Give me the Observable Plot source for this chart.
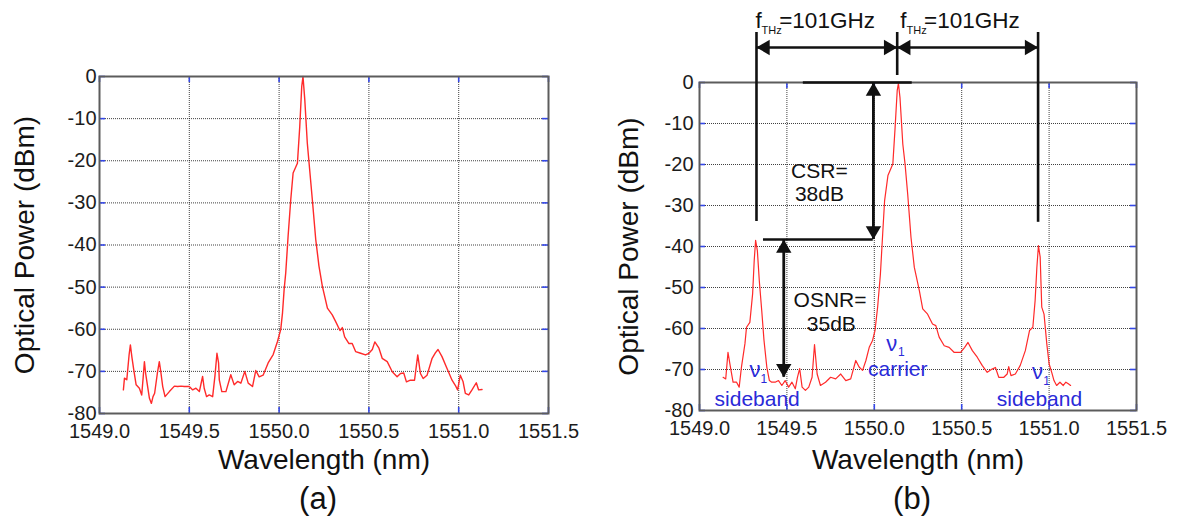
<!DOCTYPE html>
<html><head><meta charset="utf-8">
<script src="https://cdn.jsdelivr.net/npm/d3@7"></script>
<script src="https://cdn.jsdelivr.net/npm/@observablehq/plot@0.6"></script>
<style>
html,body{margin:0;padding:0;background:#fff;}
#wrap{position:relative;width:1178px;height:527px;overflow:hidden;font-family:"Liberation Sans",Arial,sans-serif;}
#wrap svg{position:absolute;top:0;}
</style></head><body><div id="wrap"></div>
<script>
// ---- Panel (a): spectrum without sidebands ----
const wavelengthA = [1549.133,1549.139,1549.152,1549.165,1549.172,1549.180,1549.191,1549.204,1549.222,1549.235,1549.243,1549.250,1549.257,1549.265,1549.278,1549.289,1549.298,1549.307,1549.322,1549.333,1549.341,1549.352,1549.365,1549.389,1549.417,1549.435,1549.454,1549.472,1549.500,1549.519,1549.537,1549.556,1549.565,1549.574,1549.583,1549.596,1549.611,1549.630,1549.643,1549.654,1549.663,1549.667,1549.681,1549.704,1549.731,1549.750,1549.769,1549.787,1549.809,1549.828,1549.852,1549.870,1549.889,1549.911,1549.939,1549.967,1549.991,1550.009,1550.019,1550.028,1550.037,1550.050,1550.065,1550.078,1550.102,1550.115,1550.126,1550.133,1550.143,1550.157,1550.167,1550.185,1550.204,1550.222,1550.241,1550.269,1550.296,1550.315,1550.339,1550.352,1550.365,1550.389,1550.407,1550.426,1550.454,1550.481,1550.500,1550.519,1550.533,1550.556,1550.574,1550.602,1550.630,1550.657,1550.676,1550.694,1550.709,1550.731,1550.754,1550.772,1550.787,1550.802,1550.824,1550.852,1550.870,1550.885,1550.907,1550.935,1550.963,1550.981,1550.994,1551.009,1551.024,1551.037,1551.056,1551.074,1551.098,1551.111,1551.130];
const powerA = [-74.4,-71.6,-72.0,-66.0,-63.7,-66.5,-69.7,-73.2,-74.0,-75.6,-71.5,-67.7,-70.5,-72.8,-76.4,-77.6,-76.0,-75.2,-70.5,-67.7,-70.0,-73.6,-76.0,-74.8,-73.5,-73.6,-73.5,-73.6,-73.6,-74.4,-74.0,-74.8,-73.0,-71.2,-74.0,-76.0,-75.6,-76.0,-71.0,-65.7,-68.0,-72.0,-74.8,-74.8,-70.8,-73.2,-72.4,-72.8,-70.0,-72.8,-73.6,-69.8,-71.3,-70.9,-68.0,-66.0,-62.9,-60.1,-56.1,-50.6,-46.6,-38.0,-29.2,-22.9,-20.6,-11.9,-2.4,0.0,-5.5,-15.8,-20.6,-29.2,-38.7,-45.0,-49.8,-55.0,-56.6,-58.2,-60.3,-59.6,-61.8,-63.4,-63.4,-65.3,-65.7,-66.1,-65.7,-64.8,-63.0,-64.5,-66.9,-67.7,-70.1,-71.3,-70.5,-70.4,-72.5,-72.1,-72.1,-66.1,-70.5,-71.7,-70.9,-66.9,-65.6,-64.8,-66.5,-69.3,-72.1,-73.3,-74.4,-70.9,-72.4,-75.2,-75.6,-74.4,-72.7,-74.4,-74.3];

// ---- Panel (b): spectrum with carrier and two sidebands ----
const wavelengthB = [1549.135,1549.150,1549.163,1549.177,1549.192,1549.212,1549.227,1549.240,1549.260,1549.269,1549.288,1549.304,1549.313,1549.321,1549.331,1549.342,1549.356,1549.369,1549.385,1549.400,1549.413,1549.433,1549.452,1549.471,1549.490,1549.510,1549.529,1549.548,1549.560,1549.573,1549.587,1549.606,1549.625,1549.644,1549.658,1549.673,1549.692,1549.721,1549.750,1549.779,1549.808,1549.837,1549.865,1549.894,1549.913,1549.933,1549.952,1549.971,1549.990,1550.004,1550.019,1550.035,1550.048,1550.059,1550.078,1550.106,1550.119,1550.131,1550.138,1550.147,1550.163,1550.176,1550.191,1550.210,1550.229,1550.258,1550.277,1550.305,1550.333,1550.352,1550.371,1550.400,1550.428,1550.456,1550.494,1550.517,1550.536,1550.561,1550.589,1550.617,1550.646,1550.674,1550.693,1550.712,1550.741,1550.760,1550.769,1550.782,1550.807,1550.835,1550.864,1550.888,1550.907,1550.920,1550.930,1550.939,1550.949,1550.958,1550.971,1550.987,1551.000,1551.015,1551.028,1551.043,1551.062,1551.081,1551.096,1551.110,1551.123];
const powerB = [-71.9,-72.3,-65.8,-69.4,-73.1,-73.1,-74.3,-69.4,-63.7,-59.7,-58.5,-51.5,-43.4,-38.5,-41.0,-48.3,-55.6,-62.9,-69.4,-72.7,-73.1,-73.1,-72.7,-73.9,-72.7,-74.3,-73.1,-74.7,-72.0,-69.8,-74.3,-75.1,-74.3,-71.9,-63.9,-71.1,-73.9,-73.1,-71.9,-72.3,-71.1,-72.7,-72.3,-67.8,-69.4,-70.2,-67.8,-64.6,-62.9,-60.5,-54.8,-46.7,-36.9,-28.8,-22.7,-19.9,-11.0,-2.0,-0.2,-3.7,-15.0,-19.9,-27.2,-37.8,-45.1,-50.8,-55.2,-56.5,-58.9,-59.3,-62.1,-64.2,-64.6,-65.8,-65.8,-64.6,-63.4,-65.4,-67.0,-69.0,-70.7,-69.9,-69.5,-71.9,-71.9,-71.1,-69.3,-71.5,-71.1,-69.0,-65.4,-60.5,-59.7,-53.2,-45.1,-39.8,-42.6,-54.8,-56.5,-63.8,-68.6,-70.7,-72.7,-73.9,-73.1,-73.9,-73.1,-73.5,-73.9];

// ---- Axes / labels ----
const xTickValues = [1549.0, 1549.5, 1550.0, 1550.5, 1551.0, 1551.5];
const yTickValues = [0, -10, -20, -30, -40, -50, -60, -70, -80];
const xLabel = "Wavelength (nm)";
const yLabel = "Optical Power (dBm)";
const panelLabels = ["(a)", "(b)"];

// ---- Panel (b) annotations (x in nm, y in dBm) ----
const markerX = [1549.326, 1550.131, 1550.937];          // sideband, carrier, sideband
const markerTop = [12.2, 12.2, 12.2];
const markerBottom = [-33.9, 1.7, -34.1];
const spacingArrowY = 8.54;
const levelLines = [ {y: 0, x1: 1549.594, x2: 1550.217}, {y: -38.3, x1: 1549.366, x2: 1549.994} ];
const csrArrow = {x: 1549.995, top: 0, bottom: -38.3};
const osnrArrow = {x: 1549.482, top: -38.3, bottom: -71.9};
const blackNotes = [
  {x: 1549.686, y: -23.2, text: "CSR="}, {x: 1549.686, y: -28.8, text: "38dB"},
  {x: 1549.747, y: -54.8, text: "OSNR="}, {x: 1549.754, y: -60.5, text: "35dB"}
];
const spacingLabels = [
  {f: 1549.320, sub: 1549.355, eq: 1549.456},
  {f: 1550.149, sub: 1550.184, eq: 1550.285}
];
const spacingText = ["f", "THz", "=101GHz"];
const blueNames = [
  {x: 1549.330, y: -78.8, text: "sideband"},
  {x: 1550.134, y: -71.7, text: "carrier"},
  {x: 1550.945, y: -79.0, text: "sideband"}
];
const nuMarks = [
  {x: 1549.317, y: -71.9, sx: 1549.349, sy: -73.4},
  {x: 1550.100, y: -65.4, sx: 1550.135, sy: -66.7},
  {x: 1550.934, y: -72.4, sx: 1550.967, sy: -73.9}
];

const FONT = '"Liberation Sans", Arial, Helvetica, sans-serif';
const BLUE = "#2a2ad8";
const TICKBLUE = "#3447e8";

function panel({left, width, height, ml, mr, mt, mb, rows, lineWidth, yPad, yLabelDx, xLabelDy, tagDy, tagDx, tag, extra}) {
  const fh = height - mt - mb, fw = width - ml - mr;
  const svg = Plot.plot({
    width, height, marginLeft: ml, marginRight: mr, marginTop: mt, marginBottom: mb,
    x: {domain: [1549.0, 1551.5], label: null},
    y: {domain: [-80, 0], label: null},
    style: {fontFamily: FONT, background: "transparent", color: "#1c1c1c", overflow: "visible"},
    marks: [
      Plot.gridX(xTickValues.slice(1, -1), {stroke: "#111", strokeOpacity: 0.8, strokeWidth: 1, strokeDasharray: "1,1"}),
      Plot.gridY(yTickValues.slice(1, -1), {stroke: "#111", strokeOpacity: 0.8, strokeWidth: 1, strokeDasharray: "1,1"}),
      Plot.ruleX(xTickValues, {stroke: TICKBLUE, strokeWidth: 1.6, insetTop: fh - 6}),
      Plot.ruleX(xTickValues, {stroke: TICKBLUE, strokeWidth: 1.6, insetBottom: fh - 6}),
      Plot.ruleY(yTickValues, {stroke: TICKBLUE, strokeWidth: 1.6, insetRight: fw - 6}),
      Plot.ruleY(yTickValues, {stroke: TICKBLUE, strokeWidth: 1.6, insetLeft: fw - 6}),
      Plot.line(rows, {x: "x", y: "y", stroke: "#ff2a2a", strokeWidth: lineWidth, curve: "linear"}),
      Plot.frame({stroke: "#5c5c5c", strokeWidth: 2}),
      Plot.axisX({ticks: xTickValues, tickSize: 0, tickPadding: 10, fontSize: 20, label: null, tickFormat: d => d.toFixed(1)}),
      Plot.axisY({ticks: yTickValues, tickSize: 0, tickPadding: yPad, fontSize: 20, label: null, tickFormat: d => String(d)}),
      Plot.text([yLabel], {text: d => d, frameAnchor: "left", textAnchor: "middle", rotate: -90, dx: yLabelDx, fontSize: 28, fill: "#111"}),
      Plot.text([xLabel], {text: d => d, frameAnchor: "bottom", textAnchor: "middle", dy: xLabelDy, lineAnchor: "bottom", fontSize: 28, fill: "#111"}),
      Plot.text([tag], {text: d => d, frameAnchor: "bottom", textAnchor: "middle", dy: tagDy, dx: tagDx, lineAnchor: "bottom", fontSize: 31, fill: "#111"}),
      ...(extra || [])
    ]
  });
  svg.style.left = left + "px";
  return svg;
}

const rowsA = wavelengthA.map((x, i) => ({x, y: powerA[i]}));
const rowsB = wavelengthB.map((x, i) => ({x, y: powerB[i]}));

const head = {symbol: "triangle", r: 5.7, fill: "#111", stroke: "none"};
const tip = 8.8;
const vRules = markerX.map((x, i) => ({x, y1: markerTop[i], y2: markerBottom[i]}));
const spacingArrows = [
  {x1: markerX[0], x2: markerX[1], y: spacingArrowY},
  {x1: markerX[1], x2: markerX[2], y: spacingArrowY}
];
const vArrows = [csrArrow, osnrArrow];

const extraB = [
  Plot.ruleX(vRules, {x: "x", y1: "y1", y2: "y2", stroke: "#111", strokeWidth: 2.6}),
  Plot.ruleY(spacingArrows, {y: "y", x1: "x1", x2: "x2", stroke: "#111", strokeWidth: 2.6}),
  Plot.ruleY(levelLines, {y: "y", x1: "x1", x2: "x2", stroke: "#111", strokeWidth: 2.6}),
  Plot.ruleX(vArrows, {x: "x", y1: "top", y2: "bottom", stroke: "#111", strokeWidth: 2.8}),
  Plot.dot(spacingArrows, {x: "x2", y: "y", rotate: 90, dx: -tip, ...head}),
  Plot.dot(spacingArrows, {x: "x1", y: "y", rotate: -90, dx: tip, ...head}),
  Plot.dot(vArrows, {x: "x", y: "top", rotate: 0, dy: tip, ...head}),
  Plot.dot(vArrows, {x: "x", y: "bottom", rotate: 180, dy: -tip, ...head}),
  Plot.text(blackNotes, {x: "x", y: "y", text: "text", textAnchor: "middle", lineAnchor: "bottom", fontSize: 21, fill: "#111"}),
  Plot.text(spacingLabels, {x: "f", y: () => 13.3, text: () => spacingText[0], textAnchor: "start", lineAnchor: "bottom", fontSize: 22.5, fill: "#111"}),
  Plot.text(spacingLabels, {x: "sub", y: () => 11.8, text: () => spacingText[1], textAnchor: "start", lineAnchor: "bottom", fontSize: 11, fill: "#111"}),
  Plot.text(spacingLabels, {x: "eq", y: () => 13.3, text: () => spacingText[2], textAnchor: "start", lineAnchor: "bottom", fontSize: 22.5, fill: "#111"}),
  Plot.text(blueNames, {x: "x", y: "y", text: "text", textAnchor: "middle", lineAnchor: "bottom", fontSize: 21, fill: BLUE}),
  Plot.text(nuMarks, {x: "x", y: "y", text: () => "ν", textAnchor: "middle", lineAnchor: "bottom", fontSize: 22, fill: BLUE}),
  Plot.text(nuMarks, {x: "sx", y: "sy", text: () => "1", textAnchor: "start", lineAnchor: "bottom", fontSize: 12, fill: BLUE})
];

const wrap = document.getElementById("wrap");
wrap.appendChild(panel({left: 0, width: 589, height: 527, ml: 99, mr: 41, mt: 76, mb: 114, rows: rowsA, lineWidth: 1.4,
  yPad: 3, yLabelDx: -74, xLabelDy: 55, tagDy: 95, tagDx: -6, tag: panelLabels[0]}));
wrap.appendChild(panel({left: 589, width: 589, height: 527, ml: 110, mr: 42, mt: 82, mb: 117, rows: rowsB, lineWidth: 1.2,
  yPad: 6, yLabelDx: -70, xLabelDy: 58, tagDy: 98, tagDx: -6, tag: panelLabels[1], extra: extraB}));
</script></body></html>
